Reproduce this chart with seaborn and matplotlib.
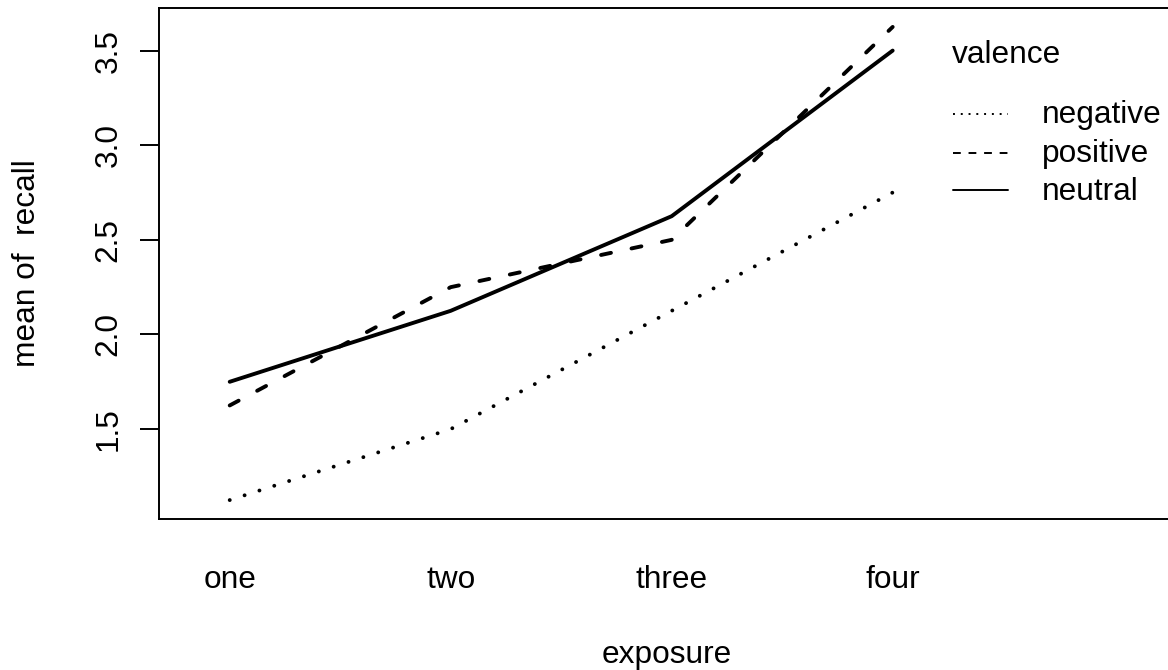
import matplotlib
matplotlib.use("Agg")
import matplotlib.pyplot as plt
from matplotlib.lines import Line2D
import seaborn as sns
import pandas as pd

# ---- data ----
exposure_levels = ["one", "two", "three", "four"]
valence_levels = ["negative", "positive", "neutral"]
negative = [1.125, 1.5, 2.125, 2.75]
positive = [1.625, 2.25, 2.5, 3.625]
neutral = [1.75, 2.125, 2.625, 3.5]
y_ticks = [1.5, 2.0, 2.5, 3.0, 3.5]
y_tick_labels = ["1.5", "2.0", "2.5", "3.0", "3.5"]

rows = []
for name, vals in zip(valence_levels, [negative, positive, neutral]):
    for ex, v in zip(exposure_levels, vals):
        rows.append({"exposure": ex, "recall": v, "valence": name})
df = pd.DataFrame(rows)

sns.set_theme(style="white")
plt.rcParams["font.family"] = ["Liberation Sans", "DejaVu Sans"]
FS = 22.8

W, H = 1168, 670
fig = plt.figure(figsize=(W / 100, H / 100), dpi=100)
fig.patch.set_facecolor("white")

def fx(px):
    return px / W

def fy(py):
    return 1 - py / H

ax_l, ax_r, ax_t, ax_b = 159, 1174, 8, 519
ax = fig.add_axes([fx(ax_l), fy(ax_b), (ax_r - ax_l) / W, (ax_b - ax_t) / H])
ax.set_facecolor("white")

main_lw = 2.8
dash_map = {"negative": (0.01, 4.0), "positive": (2.6, 5.4), "neutral": ""}
sns.lineplot(data=df, x="exposure", y="recall", style="valence",
             style_order=valence_levels, dashes=dash_map, color="black",
             linewidth=main_lw, errorbar=None, sort=False, legend=False,
             dash_capstyle="round", solid_capstyle="round", ax=ax)

ax.set_xlim(-0.32, 4.273)
ax.set_ylim(1.025, 3.725)

for sp in ax.spines.values():
    sp.set_visible(True)
    sp.set_color("black")
    sp.set_linewidth(1.4)

ax.set_yticks(y_ticks)
ax.set_yticklabels(y_tick_labels, rotation=90, va="center", fontsize=FS)
ax.tick_params(axis="y", length=13.7, width=1.4, color="black", pad=12,
               left=True, labelcolor="black")
ax.set_xticks(range(len(exposure_levels)))
ax.set_xticklabels(exposure_levels, fontsize=FS)
ax.tick_params(axis="x", length=0, pad=33, labelcolor="black")
ax.grid(False)

ax.set_xlabel("exposure", fontsize=FS, color="black", va="center")
ax.xaxis.set_label_coords(0.5, (ax_b - 655) / (ax_b - ax_t))
ax.set_ylabel("mean of  recall", fontsize=FS, color="black", va="center")
ax.yaxis.set_label_coords((27 - ax_l) / (ax_r - ax_l), 0.5)

# ---- legend (manual, R interaction.plot style) ----
fig.text(fx(952), fy(63), "valence", fontsize=FS, ha="left", va="baseline", color="black")
leg_dash = {"negative": (1.0, 3.0), "positive": (4.0, 4.0), "neutral": None}
label_base = [123, 162, 200]
line_y = [114, 153, 190]
for name, yb, yl in zip(valence_levels, label_base, line_y):
    ln = Line2D([fx(953), fx(1008)], [fy(yl), fy(yl)], transform=fig.transFigure,
                color="black", linewidth=1.4)
    if leg_dash[name] is not None:
        ln.set_dashes(leg_dash[name])
    fig.add_artist(ln)
    fig.text(fx(1042), fy(yb), name, fontsize=FS, ha="left", va="baseline", color="black")

fig.savefig("out.png", dpi=100, facecolor="white")
